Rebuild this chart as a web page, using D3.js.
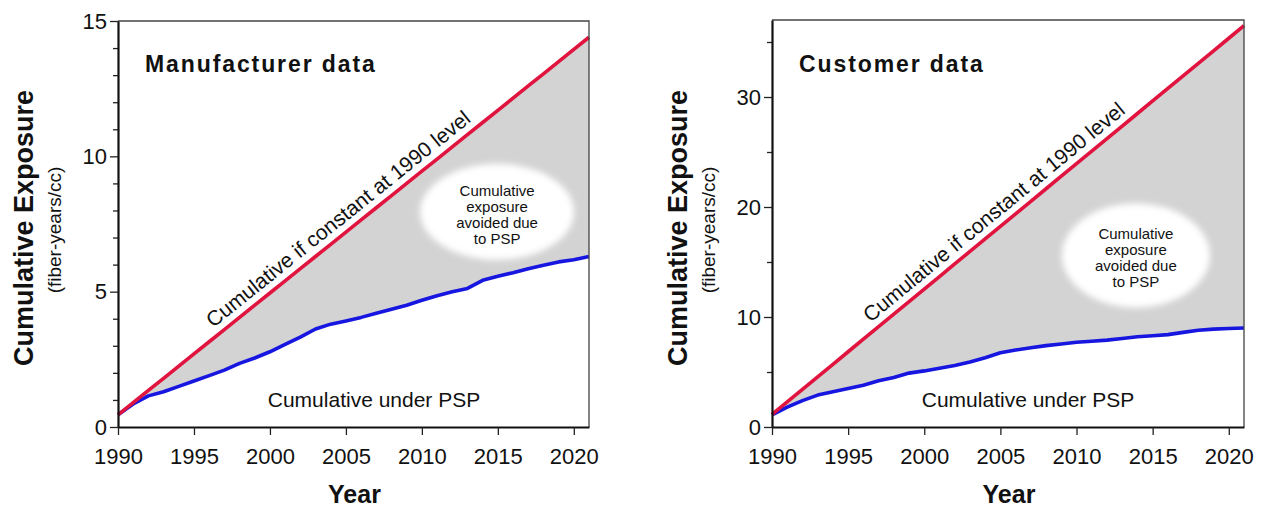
<!DOCTYPE html>
<html>
<head>
<meta charset="utf-8">
<script src="https://cdn.jsdelivr.net/npm/d3@7"></script>
<style>
  body { margin: 0; background: #fff; }
  svg text { font-family: "Liberation Sans", Arial, Helvetica, sans-serif; fill: #111; }
</style>
</head>
<body>
<svg id="chart" width="1262" height="510"></svg>
<script>
// Years covered by both panels
const years = [1990, 1991, 1992, 1993, 1994, 1995, 1996, 1997, 1998, 1999,
               2000, 2001, 2002, 2003, 2004, 2005, 2006, 2007, 2008, 2009,
               2010, 2011, 2012, 2013, 2014, 2015, 2016, 2017, 2018, 2019,
               2020, 2021];
const xTickYears = [1990, 1995, 2000, 2005, 2010, 2015, 2020];

// Manufacturer data (fiber-years/cc)
const mfrConstant = [0.45, 0.90, 1.35, 1.80, 2.25, 2.70, 3.15, 3.60, 4.05, 4.50,
                     4.95, 5.40, 5.85, 6.30, 6.75, 7.20, 7.65, 8.10, 8.55, 9.00,
                     9.45, 9.90, 10.35, 10.80, 11.25, 11.70, 12.15, 12.60, 13.05, 13.50,
                     13.95, 14.40];
const mfrPSP = [0.45, 0.85, 1.15, 1.30, 1.50, 1.70, 1.90, 2.10, 2.35, 2.55,
                2.78, 3.05, 3.32, 3.62, 3.80, 3.92, 4.05, 4.20, 4.35, 4.50,
                4.68, 4.85, 5.00, 5.12, 5.42, 5.57, 5.70, 5.85, 5.98, 6.10,
                6.18, 6.30];
const mfrYTicks = [0, 5, 10, 15];
const mfrYMinor = [1, 2, 3, 4, 6, 7, 8, 9, 11, 12, 13, 14];

// Customer data (fiber-years/cc)
const custConstant = [1.14, 2.28, 3.42, 4.56, 5.70, 6.84, 7.98, 9.12, 10.26, 11.40,
                      12.54, 13.68, 14.82, 15.96, 17.10, 18.24, 19.38, 20.52, 21.66, 22.80,
                      23.94, 25.08, 26.22, 27.36, 28.50, 29.64, 30.78, 31.92, 33.06, 34.20,
                      35.34, 36.48];
const custPSP = [1.10, 1.80, 2.40, 2.90, 3.20, 3.50, 3.80, 4.20, 4.50, 4.90,
                 5.10, 5.35, 5.60, 5.90, 6.30, 6.75, 7.00, 7.20, 7.40, 7.55,
                 7.70, 7.80, 7.90, 8.05, 8.20, 8.30, 8.40, 8.60, 8.80, 8.90,
                 8.95, 9.00];
const custYTicks = [0, 10, 20, 30];
const custYMinor = [5, 15, 25, 35];

// Text
const panelTitles = ["Manufacturer data", "Customer data"];
const yAxisTitle = "Cumulative Exposure";
const yAxisUnits = "(fiber-years/cc)";
const xAxisTitle = "Year";
const constantLabel = "Cumulative if constant at 1990 level";
const pspLabel = "Cumulative under PSP";
const avoidedLines = ["Cumulative", "exposure", "avoided due", "to PSP"];

const svg = d3.select("#chart");

const defs = svg.append("defs");
defs.append("filter").attr("id", "soft")
  .attr("x", "-20%").attr("y", "-20%").attr("width", "140%").attr("height", "140%")
  .append("feGaussianBlur").attr("stdDeviation", 3);

const RED = "#e0143f";
const BLUE = "#1616e0";
const FILL = "#d3d3d3";

function drawPanel(p) {
  const x = d3.scaleLinear().domain([1990, 2021]).range([p.left, p.right]);
  const y = d3.scaleLinear().domain([0, p.yMax]).range([427, p.top]);
  const g = svg.append("g");

  const rows = years.map((yr, i) => ({ yr, hi: p.constant[i], lo: p.psp[i] }));

  // shaded gap between the two cumulative curves
  g.append("path").datum(rows)
    .attr("fill", FILL)
    .attr("d", d3.area().x(d => x(d.yr)).y0(d => y(d.lo)).y1(d => y(d.hi)));

  // white bubble with the "avoided" note
  g.append("ellipse")
    .attr("cx", x(p.bubble[0])).attr("cy", y(p.bubble[1]))
    .attr("rx", p.bubbleR[0]).attr("ry", p.bubbleR[1])
    .attr("fill", "#fff").attr("filter", "url(#soft)");
  g.append("text")
    .attr("text-anchor", "middle")
    .attr("font-size", 15)
    .selectAll("tspan").data(avoidedLines).join("tspan")
    .attr("x", x(p.bubble[0]))
    .attr("y", (d, i) => y(p.bubble[1]) - 16 + i * 16 + (p.bubbleTextShift || 0))
    .text(d => d);

  const line = d3.line().x(d => x(d.yr));
  g.append("path").datum(rows)
    .attr("fill", "none").attr("stroke", BLUE).attr("stroke-width", 3.6)
    .attr("stroke-linejoin", "round")
    .attr("d", line.y(d => y(d.lo)));
  g.append("path").datum(rows)
    .attr("fill", "none").attr("stroke", RED).attr("stroke-width", 3.6)
    .attr("stroke-linejoin", "round")
    .attr("d", d3.line().x(d => x(d.yr)).y(d => y(d.hi)));

  // label running along the red line
  const hiAt = d3.scaleLinear().domain(years).range(p.constant);
  const n = years.length - 1;
  const ang = Math.atan2(y(p.constant[n]) - y(p.constant[0]), x(years[n]) - x(years[0])) * 180 / Math.PI;
  const ax = x(p.labelYear), ay = y(hiAt(p.labelYear));
  g.append("text")
    .attr("transform", `translate(${ax},${ay}) rotate(${ang})`)
    .attr("y", -8)
    .attr("font-size", 21)
    .text(constantLabel);

  g.append("text")
    .attr("x", p.left + 256).attr("y", 407)
    .attr("text-anchor", "middle").attr("font-size", 21)
    .text(pspLabel);

  // frame: thin top and right edges
  g.append("path")
    .attr("d", `M${p.left},${p.top}H${p.right}V427`)
    .attr("fill", "none").attr("stroke", "#444").attr("stroke-width", 1.3);

  // axes
  const yMinor = g.append("g").attr("transform", `translate(${p.left},0)`)
    .call(d3.axisLeft(y).tickValues(p.yMinor).tickSize(5).tickFormat(""));
  yMinor.select(".domain").remove();
  yMinor.selectAll("line").attr("stroke", "#222").attr("stroke-width", 1.3);

  const yAx = g.append("g").attr("transform", `translate(${p.left},0)`)
    .call(d3.axisLeft(y).tickValues(p.yTicks).tickSize(8).tickSizeOuter(0).tickPadding(3));
  yAx.select(".domain").attr("stroke", "#111").attr("stroke-width", 2.2);
  yAx.selectAll(".tick line").attr("stroke", "#222").attr("stroke-width", 1.3);
  yAx.selectAll("text").attr("font-size", 22).attr("font-family", null).attr("fill", "#111");
  yAx.attr("font-family", null);

  const xAx = g.append("g").attr("transform", "translate(0,427)")
    .call(d3.axisBottom(x).tickValues(xTickYears).tickSize(8).tickSizeOuter(0).tickPadding(13)
      .tickFormat(d3.format("d")));
  xAx.select(".domain").attr("stroke", "#111").attr("stroke-width", 2.2);
  xAx.selectAll(".tick line").attr("stroke", "#222").attr("stroke-width", 1.3);
  xAx.selectAll("text").attr("font-size", 22).attr("fill", "#111");
  xAx.attr("font-family", null);

  // titles
  g.append("text")
    .attr("x", p.left + 27).attr("y", 72)
    .attr("font-size", 23).attr("font-weight", "bold").attr("letter-spacing", 1.9)
    .text(p.title);

  g.append("text")
    .attr("transform", `translate(${p.left - 85},228) rotate(-90)`)
    .attr("text-anchor", "middle").attr("font-size", 27).attr("font-weight", "bold")
    .text(yAxisTitle);
  g.append("text")
    .attr("transform", `translate(${p.left - 57},230) rotate(-90)`)
    .attr("text-anchor", "middle").attr("font-size", 19)
    .text(yAxisUnits);

  g.append("text")
    .attr("x", (p.left + p.right) / 2 + 1).attr("y", 503)
    .attr("text-anchor", "middle").attr("font-size", 25).attr("font-weight", "bold")
    .text(xAxisTitle);
}

drawPanel({
  left: 118, right: 589, top: 21, yMax: 15,
  constant: mfrConstant, psp: mfrPSP,
  yTicks: mfrYTicks, yMinor: mfrYMinor,
  title: panelTitles[0],
  bubble: [2014.95, 7.95], bubbleR: [77, 48],
  labelYear: 1996.6
});

drawPanel({
  left: 772, right: 1244, top: 20, yMax: 37,
  constant: custConstant, psp: custPSP,
  yTicks: custYTicks, yMinor: custYMinor,
  title: panelTitles[1],
  bubble: [2013.9, 15.6], bubbleR: [74, 52],
  labelYear: 1996.8
});
</script>
</body>
</html>
